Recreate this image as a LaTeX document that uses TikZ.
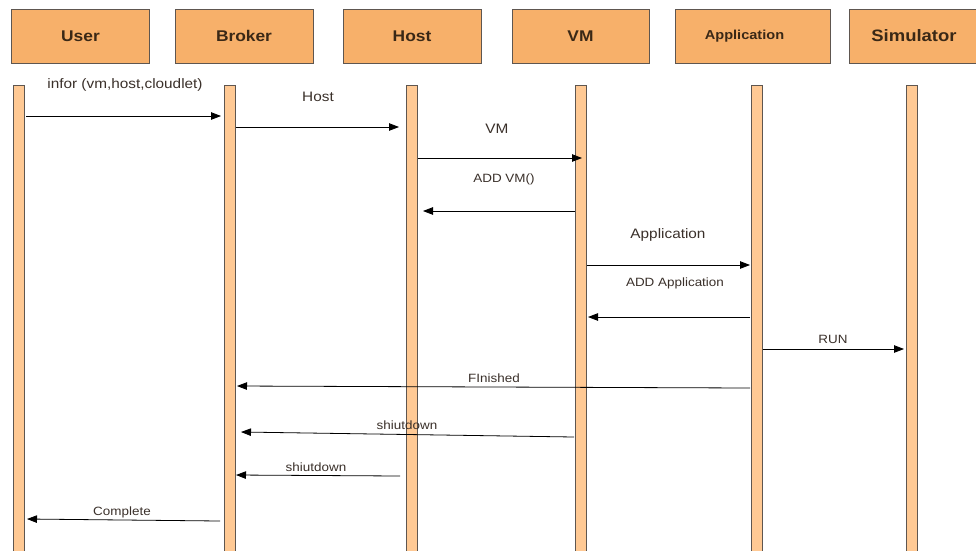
\documentclass[tikz,border=0pt]{standalone}
\usepackage{fontspec}
\setmainfont{Liberation Sans}
\newfontfamily\widefont[FakeStretch=1.12]{Liberation Sans}
\usetikzlibrary{arrows.meta}
\definecolor{boxfill}{HTML}{F7B06A}
\definecolor{lifefill}{HTML}{FFC994}
\definecolor{edge}{HTML}{5E5650}
\definecolor{txt}{HTML}{3A302A}
\definecolor{htxt}{HTML}{3A2816}
\tikzset{
  head/.style={draw=edge, line width=0.9pt, fill=boxfill, minimum width=138pt, minimum height=54pt, inner sep=0pt, font=\widefont\fontsize{15.5}{18}\selectfont\bfseries, text=htxt},
  life/.style={draw=edge, line width=0.9pt, fill=lifefill, minimum width=11pt, minimum height=470pt, inner sep=0pt, anchor=north},
  msg/.style={draw=black, line width=0.8pt, -{Triangle[length=10pt,width=7.5pt]}},
  lbl/.style={font=\widefont\fontsize{13.7}{16}\selectfont, text=txt, inner sep=0pt},
  slbl/.style={font=\widefont\fontsize{12}{14}\selectfont, text=txt, inner sep=0pt}
}
\begin{document}
\begin{tikzpicture}[x=1pt,y=-1pt]
\useasboundingbox (0,0) rectangle (976,550);
\fill[white] (0,0) rectangle (976,550);
% headers
\node[head] (hUser) at (80.5,36) {\raisebox{-2pt}{User}};
\node[head] (hBroker) at (244,36) {\raisebox{-2pt}{Broker}};
\node[head] (hHost) at (412,36) {\raisebox{-2pt}{Host}};
\node[head, minimum width=137pt] (hVM) at (580.5,36) {\raisebox{-2pt}{VM}};
\node[head, minimum width=155pt, font=\widefont\fontsize{13}{16}\selectfont\bfseries] (hApp) at (752.5,36) {\hspace*{-16pt}\raisebox{-1pt}{Application}};
\node[head, minimum width=130pt, font=\widefont\fontsize{16.5}{19}\selectfont\bfseries] (hSim) at (914,36) {\raisebox{-2pt}{Simulator}};
% lifelines
\node[life] (lUser) at (18.5,84.5) {};
\node[life] (lBroker) at (230,84.5) {};
\node[life] (lHost) at (412,84.5) {};
\node[life] (lVM) at (580.5,84.5) {};
\node[life] (lApp) at (757,84.5) {};
\node[life] (lSim) at (911.5,84.5) {};
% endpoints
\coordinate (m1s) at (26,116);  \coordinate (m1e) at (221,116);
\coordinate (m2s) at (236,127); \coordinate (m2e) at (399,127);
\coordinate (m3s) at (418,158); \coordinate (m3e) at (582,158);
\coordinate (m4s) at (575,211); \coordinate (m4e) at (423,211);
\coordinate (m5s) at (587,265); \coordinate (m5e) at (750,265);
\coordinate (m6s) at (750,317); \coordinate (m6e) at (588,317);
\coordinate (m7s) at (763,349); \coordinate (m7e) at (904,349);
\coordinate (m8s) at (750,388); \coordinate (m8e) at (237,386);
\coordinate (m9s) at (574,437); \coordinate (m9e) at (241,432);
\coordinate (m10s) at (400,476); \coordinate (m10e) at (236,475);
\coordinate (m11s) at (220,521); \coordinate (m11e) at (27,519);
% messages
\draw[msg] (m1s) -- (m1e);
\draw[msg] (m2s) -- (m2e);
\draw[msg] (m3s) -- (m3e);
\draw[msg] (m4s) -- (m4e);
\draw[msg] (m5s) -- (m5e);
\draw[msg] (m6s) -- (m6e);
\draw[msg] (m7s) -- (m7e);
\draw[msg] (m8s) -- (m8e);
\draw[msg] (m9s) -- (m9e);
\draw[msg] (m10s) -- (m10e);
\draw[msg] (m11s) -- (m11e);
% labels
\node[lbl] (t1) at (125,85) {infor (vm,host,cloudlet)};
\node[lbl] (t2) at (318,97) {Host};
\node[lbl] (t3) at (497,129) {VM};
\node[slbl] (t4) at (504,179) {ADD VM()};
\node[lbl] (t5) at (668,235) {Application};
\node[slbl] (t6) at (675,283) {ADD Application};
\node[slbl] (t7) at (833,339) {RUN};
\node[slbl] (t8) at (494,378) {FInished};
\node[slbl] (t9) at (407,425) {shiutdown};
\node[slbl] (t10) at (316,467) {shiutdown};
\node[slbl] (t11) at (122,512) {Complete};
\end{tikzpicture}
\end{document}
